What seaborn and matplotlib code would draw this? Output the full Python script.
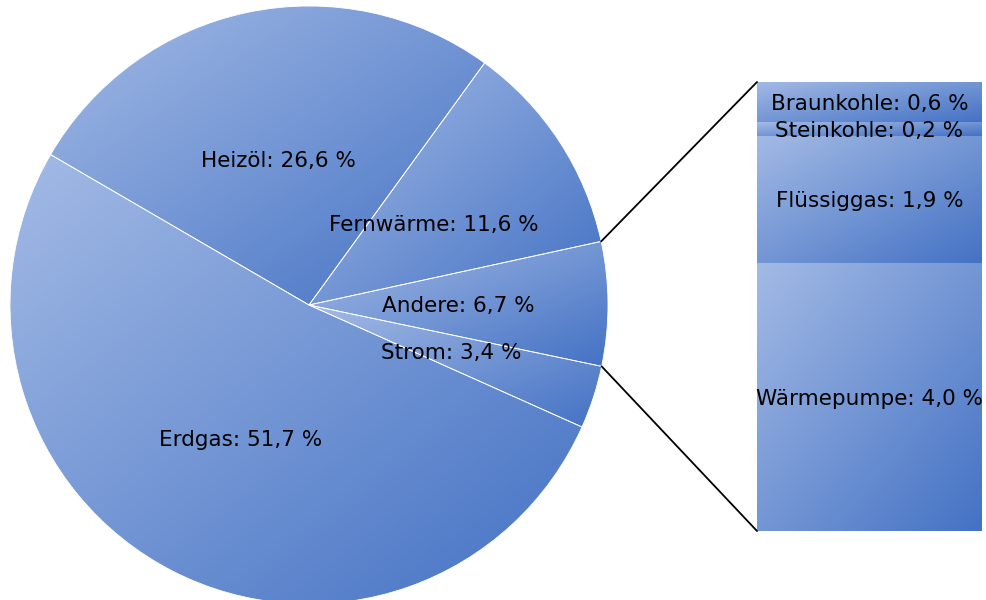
import numpy as np
import matplotlib
matplotlib.use("Agg")
import matplotlib.pyplot as plt
from matplotlib.patches import ConnectionPatch
import seaborn as sns

# main pie, share in %
pie_labels = ["Heizöl", "Fernwärme", "Andere", "Strom", "Erdgas"]
pie_values = [26.6, 11.6, 6.7, 3.4, 51.7]

# breakdown of "Andere", from bottom to top of the bar
bar_labels = ["Wärmepumpe", "Flüssiggas", "Steinkohle", "Braunkohle"]
bar_values = [4.0, 1.9, 0.2, 0.6]

sns.set_theme(style="white")
plt.rcParams["font.family"] = ["DejaVu Sans"]
FS = 15.5

grad_cmap = sns.blend_palette(["#a3bae5", "#4472c4"], as_cmap=True)
gy, gx = np.mgrid[0:1:200j, 0:1:200j]
grad = (gx + gy) / 2  # light top-left -> dark bottom-right


def fmt(lab, v):
    return f"{lab}: {v:.1f} %".replace(".", ",")


def gradient_fill(ax, patch, x0, x1, y0, y1):
    im = ax.imshow(grad, cmap=grad_cmap, vmin=0, vmax=1, extent=(x0, x1, y0, y1),
                   origin="upper", aspect="auto", interpolation="bilinear", zorder=1)
    im.set_clip_path(patch)


W, H = 987, 600
fig = plt.figure(figsize=(W / 100, H / 100), dpi=100)

# pie axes (layout in pixels)
cx, cy, r = 309, 305, 299
ax = fig.add_axes([(cx - r) / W, (H - cy - r) / H, 2 * r / W, 2 * r / H])
wedges, _ = ax.pie(pie_values, startangle=149.8, counterclock=False, radius=1,
                   wedgeprops=dict(facecolor="none", edgecolor="white", linewidth=0.6, zorder=2))
ax.set_xlim(-1, 1)
ax.set_ylim(-1, 1)
ax.axis("off")

for w, lab, v in zip(wedges, pie_labels, pie_values):
    ext = w.get_path().get_extents()
    gradient_fill(ax, w, ext.x0, ext.x1, ext.y0, ext.y1)
    ang = np.deg2rad((w.theta1 + w.theta2) / 2)
    ax.text(0.5 * np.cos(ang), 0.5 * np.sin(ang), fmt(lab, v),
            ha="center", va="center_baseline", fontsize=FS, color="black", zorder=3)

# bar of pie
bx0, bx1, by0, by1 = 757, 982, 82, 531
bax = fig.add_axes([bx0 / W, (H - by1) / H, (bx1 - bx0) / W, (by1 - by0) / H])
bottoms = np.concatenate([[0], np.cumsum(bar_values)[:-1]])
bars = bax.bar(np.zeros(len(bar_values)), bar_values, bottom=bottoms, width=1,
               facecolor="none", edgecolor="none", zorder=2)
bax.set_xlim(-0.5, 0.5)
bax.set_ylim(0, sum(bar_values))
bax.axis("off")
for rect in bars:
    bb = rect.get_bbox()
    gradient_fill(bax, rect, bb.x0, bb.x1, bb.y0, bb.y1)
for rect, lab, v in zip(bars, bar_labels, bar_values):
    bb = rect.get_bbox()
    bax.text((bb.x0 + bb.x1) / 2, (bb.y0 + bb.y1) / 2, fmt(lab, v),
             ha="center", va="center_baseline", fontsize=FS, color="black", zorder=3)

# connector lines from "Andere" wedge to the bar
andere = wedges[pie_labels.index("Andere")]
pts = [(np.cos(np.deg2rad(t)), np.sin(np.deg2rad(t))) for t in (andere.theta1, andere.theta2)]
pts.sort(key=lambda p: p[1])
for (px, py), yb in zip(pts, [0, 1]):
    con = ConnectionPatch(xyA=(px, py), coordsA=ax.transData, xyB=(0, yb), coordsB=bax.transAxes,
                          color="black", linewidth=1.3)
    fig.add_artist(con)

fig.savefig("out.png", dpi=100)
